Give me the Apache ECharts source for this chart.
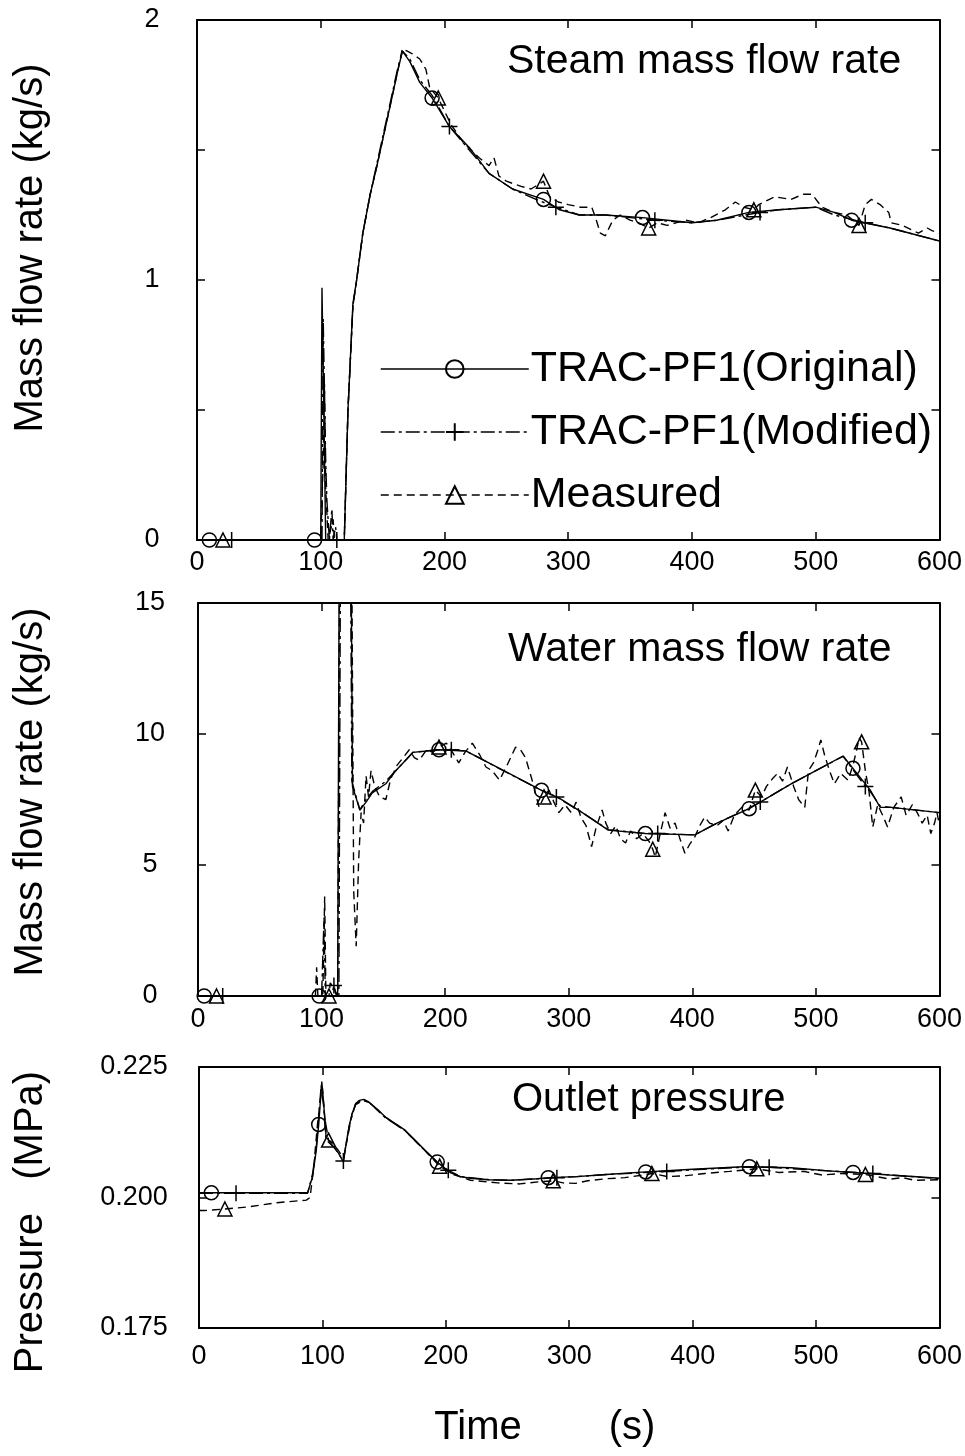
<!DOCTYPE html>
<html><head><meta charset="utf-8">
<script src="https://cdn.jsdelivr.net/npm/echarts@6/dist/echarts.min.js"></script>
<style>html,body{margin:0;padding:0;background:#fff}#c{width:965px;height:1456px}</style>
</head><body><div id="c"></div>
<script>
// ---------- labels ----------
const seriesNames = ['TRAC-PF1(Original)', 'TRAC-PF1(Modified)', 'Measured'];
const panelTitles = ['Steam mass flow rate', 'Water mass flow rate', 'Outlet pressure'];
const yTitles = ['Mass flow rate (kg/s)', 'Mass flow rate (kg/s)', 'Pressure   (MPa)'];
const timeTicks = [0, 100, 200, 300, 400, 500, 600];

// ---------- steam mass flow rate (kg/s) ----------
const steamOrig = [[0,0],[10,0],[95,0],[100,0],[101,0.97],[102.5,0.5],[104,0],[119,0],[122,0.5],[126,0.91],[129,1.0],[134,1.18],[140,1.33],[145,1.43],[151,1.56],[157,1.69],[162,1.80],[166,1.88],[172,1.84],[180,1.76],[190,1.70],[204,1.59],[220,1.51],[236,1.41],[255,1.35],[274,1.32],[280,1.31],[293,1.27],[309,1.25],[330,1.25],[360,1.24],[380,1.23],[400,1.22],[420,1.23],[446,1.26],[470,1.27],[500,1.28],[515,1.26],[529,1.23],[560,1.20],[600,1.15]];
const steamMod = [[0,0],[28,0],[101,0],[102,0.85],[104,0.3],[105,0.15],[107,0],[109,0.12],[110,0],[112,0.05],[113,0],[119,0],[122,0.5],[126,0.9],[129,1.0],[134,1.18],[140,1.33],[145,1.44],[151,1.57],[157,1.70],[162,1.81],[166,1.88],[172,1.85],[180,1.77],[190,1.71],[204,1.59],[220,1.50],[236,1.41],[255,1.35],[274,1.31],[290,1.28],[309,1.25],[330,1.25],[370,1.23],[400,1.22],[420,1.23],[455,1.26],[470,1.27],[500,1.28],[515,1.25],[540,1.22],[560,1.20],[600,1.15]];
const steamMeas = [[0,0],[21,0],[100,0],[102,0.3],[103,0.6],[104,0.2],[106,0],[110,0.08],[111,0],[119,0],[122,0.5],[126,0.9],[129,1.0],[134,1.18],[140,1.33],[145,1.43],[151,1.56],[157,1.69],[162,1.80],[166,1.89],[170,1.88],[174,1.87],[180,1.85],[185,1.81],[188,1.74],[195,1.70],[205,1.60],[215,1.53],[228,1.47],[236,1.44],[240,1.47],[244,1.40],[250,1.38],[256,1.37],[262,1.36],[270,1.35],[280,1.38],[285,1.32],[292,1.30],[300,1.29],[310,1.28],[319,1.28],[322,1.24],[326,1.18],[330,1.17],[336,1.23],[342,1.25],[350,1.23],[357,1.22],[365,1.20],[372,1.22],[380,1.21],[387,1.22],[395,1.23],[405,1.22],[415,1.24],[427,1.27],[435,1.30],[442,1.28],[450,1.27],[454,1.29],[467,1.32],[480,1.31],[490,1.33],[497,1.33],[505,1.28],[515,1.26],[525,1.25],[535,1.21],[540,1.29],[545,1.31],[552,1.29],[559,1.26],[561,1.22],[570,1.21],[583,1.18],[590,1.20],[594,1.19],[600,1.18]];
const steamOrigMarks = [10,95,190,280,360,446,529];
const steamModMarks = [28,113,204,290,370,455,540];
const steamMeasMarks = [21,195,280,365,450,535];

// ---------- water mass flow rate (kg/s) ----------
const waterOrig = [[0,0],[5,0],[98,0],[113,0],[114.5,20],[123.5,20],[125,8.0],[131,7.1],[136,7.4],[141,7.75],[152,8.1],[160,8.6],[168,9.0],[174,9.3],[195,9.4],[217,9.35],[249,8.56],[278,7.85],[292,7.56],[311,7.0],[332,6.33],[362,6.2],[402,6.15],[420,6.6],[446,7.15],[480,8.1],[500,8.6],[522,9.16],[530,8.69],[544,7.86],[552,7.2],[561,7.2],[600,7.0]];
const waterMod = [[0,0],[20,0],[100,0],[101,0],[102,3.0],[103,0],[108,0],[110,0.4],[112,0],[114,0],[115.5,20],[123,20],[124.5,8.2],[131,7.1],[136,7.5],[141,7.8],[152,8.2],[160,8.6],[168,9.0],[174,9.3],[195,9.4],[205,9.4],[217,9.35],[249,8.55],[278,7.85],[290,7.6],[311,7.0],[332,6.35],[362,6.2],[372,6.2],[402,6.15],[420,6.6],[443,7.1],[455,7.4],[480,8.1],[500,8.6],[522,9.15],[540,8.0],[544,7.8],[552,7.25],[561,7.2],[600,7.0]];
const waterMeas = [[0,0],[15,0],[95,0],[96,1.1],[97,0],[101,0],[102.5,3.8],[103.5,0],[106,0],[107,0.5],[110,0.3],[113,0],[115,20],[124,20],[126,4],[128,1.9],[130,5.2],[132,7.0],[134,6.6],[136,8.4],[138,7.6],[140,8.6],[143,8.0],[147,7.6],[152,7.5],[156,8.3],[161,8.8],[166,9.1],[171,9.4],[175,9.1],[179,9.0],[185,9.4],[190,9.3],[195,9.5],[201,9.65],[206,9.3],[211,8.9],[216,9.3],[222,9.65],[228,9.2],[233,8.74],[238,8.6],[244,8.24],[250,8.8],[257,9.5],[261,9.4],[265,9.1],[270,8.3],[276,7.2],[280,7.6],[284,7.86],[288,7.4],[292,7.0],[297,7.3],[302,7.0],[306,7.4],[310,6.8],[314,6.5],[318.5,5.7],[322,6.4],[327,7.1],[330,6.6],[334,6.2],[338,6.5],[342,6.0],[346,5.84],[350,6.3],[355,6.0],[360,6.2],[365,5.9],[368,5.6],[370,5.3],[374,6.2],[378,7.0],[382,6.4],[386,6.6],[390,6.0],[394,5.45],[398,5.8],[402,6.07],[406,6.5],[410,6.83],[414,6.6],[420,6.5],[425,6.7],[429,6.3],[434,6.9],[440,7.2],[446,7.1],[451,7.86],[456,7.6],[460,8.0],[465,8.3],[469,8.5],[473,8.2],[477,8.74],[482,8.0],[486,7.5],[491,7.2],[494,8.6],[498,8.9],[501,9.3],[504,9.77],[507,9.2],[511,8.6],[515,8.1],[520,8.5],[526,8.24],[530,8.8],[533,9.4],[535,9.85],[537,9.7],[540,8.6],[543,7.8],[546,6.45],[550,7.3],[554,6.9],[558,6.45],[563,7.2],[569,7.6],[573,6.9],[578,7.3],[582,7.0],[586,6.6],[590,6.9],[593,6.2],[596,6.6],[598,7.0],[600,6.5]];
const waterOrigMarks = [5,98,195,278,362,446,530];
const waterModMarks = [20,110,205,290,372,455,540];
const waterMeasMarks = [15,106,195,280,368,451,537];

// ---------- outlet pressure (MPa) ----------
const presOrig = [[0,0.2009],[10,0.2009],[88,0.2009],[92,0.2040],[95,0.2090],[97,0.2140],[99.5,0.2222],[101,0.2180],[103,0.2116],[108,0.2100],[113,0.2085],[117,0.2068],[119,0.2100],[121.5,0.2135],[124,0.2160],[127,0.2180],[130,0.2186],[133.5,0.2188],[137.5,0.2183],[145,0.2168],[151,0.2154],[160,0.2140],[167,0.2129],[175,0.2110],[183,0.2091],[193,0.2068],[204,0.2047],[212,0.2040],[220,0.2037],[235,0.2034],[253,0.2033],[274,0.2036],[283,0.2038],[306,0.2040],[330,0.2044],[362,0.2049],[400,0.2054],[441,0.2059],[446,0.2059],[480,0.2057],[510,0.2051],[530,0.2048],[560,0.2043],[600,0.2037]];
const presMod = [[0,0.2008],[30,0.2008],[88,0.2008],[92,0.2045],[95,0.2095],[99,0.2215],[101,0.2175],[103,0.2110],[110,0.2095],[117,0.2070],[119,0.2100],[122,0.2140],[127,0.2180],[133.5,0.2187],[138,0.2182],[151,0.2153],[167,0.2128],[183,0.2090],[193,0.2068],[202,0.2052],[212,0.2040],[235,0.2034],[253,0.2033],[275,0.2036],[290,0.2038],[306,0.2040],[330,0.2044],[379,0.2050],[400,0.2053],[441,0.2058],[462,0.2058],[510,0.2051],[546,0.2046],[560,0.2043],[600,0.2036]];
const presMeas = [[0,0.1975],[5,0.1975],[21,0.1978],[40,0.1982],[63,0.1990],[87,0.1995],[90,0.2000],[93,0.2060],[96,0.2140],[99,0.2200],[100,0.2210],[102,0.2150],[105,0.2110],[108,0.2105],[113,0.2090],[117,0.2075],[120,0.2110],[124,0.2160],[127,0.2178],[133,0.2186],[138,0.2182],[151,0.2154],[167,0.2128],[183,0.2090],[195,0.2060],[205,0.2045],[220,0.2033],[242,0.2028],[260,0.2026],[275,0.2030],[287,0.2032],[295,0.2028],[305,0.2027],[315,0.2032],[330,0.2036],[345,0.2038],[360,0.2043],[367,0.2046],[380,0.2040],[395,0.2042],[410,0.2046],[430,0.2050],[452,0.2055],[470,0.2048],[490,0.2050],[505,0.2043],[520,0.2046],[540,0.2044],[560,0.2035],[570,0.2038],[580,0.2033],[600,0.2034]];
const presOrigMarks = [10,97,193,283,362,446,530];
const presModMarks = [30,117,202,290,379,462,546];
const presMeasMarks = [21,105,195,287,367,452,540];

// ---------- build ----------
const FONT = 'Liberation Sans, Arial, Helvetica, sans-serif';
const panels = [
  {grid:{left:197, top:20, width:744, height:520}, yMin:0, yMax:2, yInt:0.5,
   fmt: v => (Math.abs(v - Math.round(v)) < 1e-9 ? String(Math.round(v)) : ''), yMargin:45, xMargin:9,
   data:[[steamOrig,steamOrigMarks],[steamMod,steamModMarks],[steamMeas,steamMeasMarks]]},
  {grid:{left:198, top:603, width:744, height:393}, yMin:0, yMax:15, yInt:5,
   fmt: v => String(v), yMargin:48, xMargin:10,
   data:[[waterOrig,waterOrigMarks],[waterMod,waterModMarks],[waterMeas,waterMeasMarks]]},
  {grid:{left:199, top:1067, width:746, height:261}, yMin:0.175, yMax:0.225, yInt:0.025,
   fmt: v => v.toFixed(3), yMargin:65, xMargin:15,
   data:[[presOrig,presOrigMarks],[presMod,presModMarks],[presMeas,presMeasMarks]]}
];
const styles = [
  {symbol:'circle', symbolSize:14, type:'solid'},
  {symbol:'path://M0,10L20,10M10,0L10,20', symbolSize:16, type:[14,4,3,4]},
  {symbol:'triangle', symbolSize:14, type:[8,5]}
];
function withMarks(points, marks) {
  return points.map(p => marks.indexOf(p[0]) >= 0 ? {value: p} : {value: p, symbol: 'none'});
}

const grid = [], xAxis = [], yAxis = [], series = [];
const axisLine = {show:true, onZero:false, lineStyle:{color:'#000', width:2}};
panels.forEach((pn, i) => {
  grid.push(pn.grid);
  const xBase = {type:'value', gridIndex:i, min:0, max:600, interval:100, splitLine:{show:false},
    axisLine, axisTick:{show:true, inside:true, length:8, lineStyle:{color:'#000', width:1.5}}};
  xAxis.push(Object.assign({}, xBase, {position:'bottom',
    axisLabel:{show:true, color:'#000', fontSize:27, fontFamily:FONT, margin:pn.xMargin,
      formatter: v => (timeTicks.indexOf(v) >= 0 ? String(v) : '')}}));
  xAxis.push(Object.assign({}, xBase, {position:'top', axisLabel:{show:false}}));
  const yBase = {type:'value', gridIndex:i, min:pn.yMin, max:pn.yMax, interval:pn.yInt, splitLine:{show:false},
    axisLine, axisTick:{show:true, inside:true, length:8, lineStyle:{color:'#000', width:1.5}}};
  yAxis.push(Object.assign({}, yBase, {position:'left',
    axisLabel:{show:true, color:'#000', fontSize:27, fontFamily:FONT, margin:pn.yMargin, align:'center', formatter:pn.fmt}}));
  yAxis.push(Object.assign({}, yBase, {position:'right', axisLabel:{show:false}}));
  pn.data.forEach((d, s) => {
    series.push({
      type:'line', name:seriesNames[s], xAxisIndex:2*i, yAxisIndex:2*i,
      data: withMarks(d[0], d[1]),
      symbol: styles[s].symbol, symbolSize: styles[s].symbolSize,
      showSymbol:true, showAllSymbol:true, animation:false, clip:true,
      lineStyle:{color:'#000', width:1.4, type:styles[s].type},
      itemStyle:{color:'rgba(0,0,0,0)', borderColor:'#000', borderWidth:1.5},
      emphasis:{disabled:true}
    });
  });
});

function txt(x, y, text, size, align, rot) {
  const el = {type:'text', x:x, y:y, style:{text:text, font:size + 'px ' + FONT, fill:'#000',
    textAlign:align, textVerticalAlign:'middle', align:align, verticalAlign:'middle'}};
  if (rot) el.rotation = rot;
  return el;
}
const graphic = [
  txt(507, 62, panelTitles[0], 41, 'left'),
  txt(508, 650, panelTitles[1], 41, 'left'),
  txt(512, 1100, panelTitles[2], 40, 'left'),
  txt(31, 248, yTitles[0], 40, 'center', Math.PI/2),
  txt(31, 792, yTitles[1], 40, 'center', Math.PI/2),
  txt(31, 1222, yTitles[2], 40, 'center', Math.PI/2),
  txt(478, 1428, 'Time', 40, 'center'),
  txt(632, 1428, '(s)', 40, 'center')
];

const chart = echarts.init(document.getElementById('c'), null, {renderer:'canvas'});
chart.setOption({
  backgroundColor:'#fff',
  animation:false,
  grid, xAxis, yAxis, series, graphic,
  legend:{
    show:true, orient:'vertical', left:380, top:347, padding:0, selectedMode:false,
    data:seriesNames,
    itemWidth:148, itemHeight:22, itemGap:19,
    lineStyle:{width:1.5},
    textStyle:{fontSize:43, lineHeight:44, fontFamily:FONT, color:'#000', padding:[0,0,0,-3]}
  }
});
</script>
</body></html>
